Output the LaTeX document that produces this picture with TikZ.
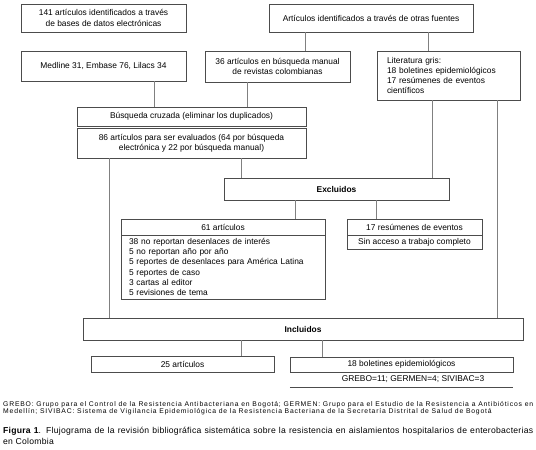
\documentclass[tikz,border=0pt]{standalone}
\usepackage{fontspec}
\setmainfont{Liberation Sans}
\newfontfamily\footfont[LetterSpace=12]{Liberation Sans}
\newfontfamily\capfont[LetterSpace=3]{Liberation Sans}
\definecolor{boxc}{gray}{0.3}
\definecolor{linec}{gray}{0.5}
\newcommand{\fs}{\fontsize{8.4}{10.3}\selectfont}
\tikzset{
  box/.style={draw=boxc, line width=0.8pt, inner sep=0pt, font=\fs, align=center, rectangle},
  lbox/.style={box, align=left},
  conn/.style={draw=linec, line width=0.8pt},
  plain/.style={inner sep=0pt, anchor=west, align=left}
}
\begin{document}
\begin{tikzpicture}[x=1pt,y=-1pt]
\useasboundingbox (0,0) rectangle (536,450);
% boxes
\node[box, minimum width=165pt, minimum height=28pt, font=\fontsize{8.4}{11}\selectfont] (a) at (103.5,18) {141 artículos identificados a través\\de bases de datos electrónicas};
\node[box, minimum width=204pt, minimum height=28pt] (b) at (371,18) {Artículos identificados a través de otras fuentes};
\node[box, minimum width=165pt, minimum height=30pt] (med) at (103.5,66) {Medline 31, Embase 76, Lilacs 34};
\node[box, minimum width=145pt, minimum height=31pt] (m36) at (277.5,66.5) {36 artículos en búsqueda manual\\de revistas colombianas};
\node[lbox, minimum width=143pt, minimum height=49pt, text width=123pt, inner xsep=10pt, font=\fontsize{8.4}{9.8}\selectfont] (lit) at (448.5,75.5) {Literatura gris:\\18 boletines epidemiológicos\\17 resúmenes de eventos\\científicos};
\node[box, minimum width=229pt, minimum height=19pt] (bus) at (191.5,116.5) {Búsqueda cruzada (eliminar los duplicados)};
\node[box, minimum width=229pt, minimum height=30pt] (e86) at (191.5,143) {86 artículos para ser evaluados (64 por búsqueda\\electrónica y 22 por búsqueda manual)};
\node[box, minimum width=225pt, minimum height=22pt, font=\fs\bfseries] (exc) at (336.5,189) {Excluidos};
\node[box, minimum width=204pt, minimum height=16pt] (e61) at (223,227) {61 artículos};
\node[lbox, minimum width=204pt, minimum height=64pt, text width=188pt, inner xsep=8pt] (e61b) at (223,267) {38 no reportan desenlaces de interés\\5 no reportan año por año\\5 reportes de desenlaces para América Latina\\5 reportes de caso\\3 cartas al editor\\5 revisiones de tema};
\node[box, minimum width=135pt, minimum height=16pt] (e17) at (414.5,227) {17 resúmenes de eventos};
\node[box, minimum width=135pt, minimum height=14pt] (e17b) at (414.5,242) {Sin acceso a trabajo completo};
\node[box, minimum width=440pt, minimum height=22pt, font=\fs\bfseries] (inc) at (303,329) {Incluidos};
\node[box, minimum width=183pt, minimum height=16pt] (i25) at (182.5,364) {25 artículos};
\node[box, minimum width=223pt, minimum height=15pt] (i18) at (401.5,364.5) {18 boletines epidemiológicos};
\node[inner sep=0pt, font=\fs, minimum width=223pt, minimum height=15pt] (i18b) at (401.5,379.5) {};
\node[inner sep=0pt, font=\fs] (i18t) at (413,379.5) {GREBO=11; GERMEN=4; SIVIBAC=3};
\draw[draw=boxc, line width=0.8pt] (i18b.south west) -- (i18b.south east);
% x positions of connectors
\coordinate (x1) at (305,0);
\coordinate (x2) at (428,0);
\coordinate (x3) at (154,0);
\coordinate (x4) at (247,0);
\coordinate (x5) at (109,0);
\coordinate (x6) at (241,0);
\coordinate (x7) at (432,0);
\coordinate (x8) at (497,0);
\coordinate (x9) at (295,0);
\coordinate (x10) at (376,0);
\coordinate (x11) at (241,0);
\coordinate (x12) at (322,0);
\draw[conn] (b.south -| x1) -- (m36.north -| x1);
\draw[conn] (b.south -| x2) -- (lit.north -| x2);
\draw[conn] (med.south -| x3) -- (bus.north -| x3);
\draw[conn] (m36.south -| x4) -- (bus.north -| x4);
\draw[conn] (e86.south -| x5) -- (inc.north -| x5);
\draw[conn] (e86.south -| x6) -- (exc.north -| x6);
\draw[conn] (lit.south -| x7) -- (exc.north -| x7);
\draw[conn] (lit.south -| x8) -- (inc.north -| x8);
\draw[conn] (exc.south -| x9) -- (e61.north -| x9);
\draw[conn] (exc.south -| x10) -- (e17.north -| x10);
\draw[conn] (inc.south -| x11) -- (i25.north -| x11);
\draw[conn] (inc.south -| x12) -- (i18.north -| x12);
% captions
\node[plain, font=\footfont\fontsize{6.8}{8}\selectfont] (fn1) at (3,404.5) {\makebox[530pt][s]{GREBO: Grupo para el Control de la Resistencia Antibacteriana en Bogotá; GERMEN: Grupo para el Estudio de la Resistencia a Antibióticos en}};
\node[plain, font=\footfont\fontsize{6.8}{8}\selectfont] (fn2) at (3,412) {Medellín; SIVIBAC: Sistema de Vigilancia Epidemiológica de la Resistencia Bacteriana de la Secretaría Distrital de Salud de Bogotá};
\node[plain, font=\capfont\fontsize{8.6}{10}\selectfont] (cap1) at (3,431) {\makebox[530pt][s]{\textbf{Figura 1}. Flujograma de la revisión bibliográfica sistemática sobre la resistencia en aislamientos hospitalarios de enterobacterias}};
\node[plain, font=\capfont\fontsize{8.6}{10}\selectfont] (cap2) at (3,441) {en Colombia};
\end{tikzpicture}
\end{document}
